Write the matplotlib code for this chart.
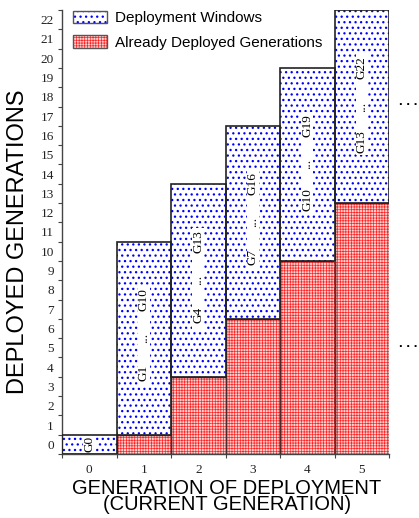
import numpy as np
import matplotlib.pyplot as plt
from matplotlib.patches import Patch, Rectangle
from matplotlib.legend_handler import HandlerTuple

# data
generations = [0, 1, 2, 3, 4, 5]
deployed = [0, 1, 4, 7, 10, 13]        # already deployed generations (red)
window = [1, 10, 10, 10, 10, 10]       # deployment window size (blue)
y_labels = [str(k) for k in range(23)]
legend_labels = ["Deployment Windows", "Already Deployed Generations"]

serif = ['Liberation Serif', 'DejaVu Serif']
sans = ['Liberation Sans', 'DejaVu Sans']
red_face, red_line, red_hatch = '#ffd2d2', '#ff2424', '++++++'
blue_dot, blue_hatch = '#0000ff', '...'
red_hlw, blue_hlw = 0.5, 0.9


def set_hlw(patch, lw):
    if hasattr(patch, 'set_hatch_linewidth'):
        patch.set_hatch_linewidth(lw)
    else:
        patch._hatch_linewidth = lw


W, H = 419, 518
fig = plt.figure(figsize=(W / 100, H / 100), dpi=100)
ax = fig.add_axes([62 / W, 64 / H, 327 / W, 444 / H])

x = np.array(generations)
dep = np.array(deployed)
win = np.array(window)

# red part: fine grid texture, then the outline
red_bars = ax.bar(x, dep, width=1.0, color=red_face, edgecolor=red_line, hatch=red_hatch,
                  linewidth=0, zorder=2)
ax.bar(x, dep, width=1.0, fill=False, edgecolor='#4a2a2a', linewidth=1.0, zorder=3)

# blue dotted deployment windows
blue_bars = ax.bar(x, win, bottom=dep, width=1.0, color='white', edgecolor=blue_dot,
                   hatch=blue_hatch, linewidth=0, zorder=2)
ax.bar(x, win, bottom=dep, width=1.0, fill=False, edgecolor='#222222', linewidth=1.2, zorder=3)

for p in red_bars:
    set_hlw(p, red_hlw)
for p in blue_bars:
    set_hlw(p, blue_hlw)

ax.vlines(x[4] + 0.5, 0, dep[4], colors='#8b2222', linestyles=(0, (4, 2)), linewidth=1.2, zorder=4)

# labels inside the windows
for i in range(len(x)):
    if win[i] == 1:
        ax.text(x[i], dep[i] + 0.5, f"G{dep[i]}", rotation=90, ha='center', va='center',
                fontsize=9.5, family=serif, zorder=5,
                bbox=dict(facecolor='white', edgecolor='none', pad=0.5))
        continue
    lo = dep[i] + win[i] * 0.32
    mid = dep[i] + win[i] * 0.5
    hi = dep[i] + win[i] * 0.7
    ax.add_patch(Rectangle((x[i] - 0.11, lo - 0.7), 0.22, hi - lo + 1.4,
                           facecolor='white', edgecolor='none', zorder=4))
    ax.text(x[i], lo, f"G{dep[i]}", rotation=90, ha='center', va='center',
            fontsize=9.5, family=serif, zorder=5)
    ax.text(x[i], mid, "...", rotation=90, ha='center', va='center',
            fontsize=9.5, family=serif, zorder=5)
    ax.text(x[i], hi, f"G{dep[i] + win[i] - 1}", rotation=90, ha='center', va='center',
            fontsize=9.5, family=serif, zorder=5)

ax.set_xlim(-0.5, 5.5)
ax.set_ylim(0, 23)

ax.set_xticks(x, labels=[str(g) for g in generations])
ax.set_xticks(np.arange(-0.5, 6, 1), minor=True)
ax.set_yticks(np.arange(len(y_labels)) + 0.5, labels=y_labels)
ax.set_yticks(np.arange(0, 24), minor=True)
ax.tick_params(which='major', length=0)
ax.tick_params(axis='x', which='major', pad=7)
ax.tick_params(axis='y', which='major', pad=6)
ax.tick_params(which='minor', length=3, width=0.8, color='#444444')
for lab in ax.get_xticklabels() + ax.get_yticklabels():
    lab.set_family(serif)
    lab.set_fontsize(9.5)
    lab.set_color('#222222')

for s in ['top', 'right']:
    ax.spines[s].set_visible(False)
for s in ['left', 'bottom']:
    ax.spines[s].set_color('#444444')
    ax.spines[s].set_linewidth(1.0)

h_blue = (Patch(facecolor='white', edgecolor=blue_dot, hatch=blue_hatch, linewidth=0),
          Patch(fill=False, edgecolor='#555555', linewidth=1.0))
h_red = (Patch(facecolor=red_face, edgecolor=red_line, hatch=red_hatch, linewidth=0),
         Patch(fill=False, edgecolor='#555555', linewidth=1.0))
leg = ax.legend([h_blue, h_red], legend_labels, handler_map={tuple: HandlerTuple(ndivide=1)},
                loc='upper left', bbox_to_anchor=(11 / 327, 1 - 1 / 444), borderaxespad=0,
                borderpad=0, frameon=False, handlelength=2.24, handleheight=0.86,
                handletextpad=0.53, labelspacing=0.65, prop=dict(family=sans, size=11))
for p in leg.findobj(Rectangle):
    if p.get_hatch() == red_hatch:
        set_hlw(p, red_hlw)
    elif p.get_hatch() == blue_hatch:
        set_hlw(p, blue_hlw)

fig.text(18.5 / W, 1 - 242 / H, "DEPLOYED GENERATIONS", rotation=90, ha='center', va='center',
         fontsize=17, family=sans)
fig.text(227 / W, 1 - 510.5 / H, "GENERATION OF DEPLOYMENT\n(CURRENT GENERATION)",
         ha='center', va='baseline', multialignment='center', linespacing=0.85,
         fontsize=14.5, family=sans)

# continuation marks on the right
fig.text(399 / W, 1 - 105 / H, ". . .", ha='left', va='baseline', fontsize=9.5,
         fontweight='bold', family=sans)
fig.text(399 / W, 1 - 347 / H, ". . .", ha='left', va='baseline', fontsize=9.5,
         fontweight='bold', family=sans)

fig.savefig("out.png", dpi=100)
